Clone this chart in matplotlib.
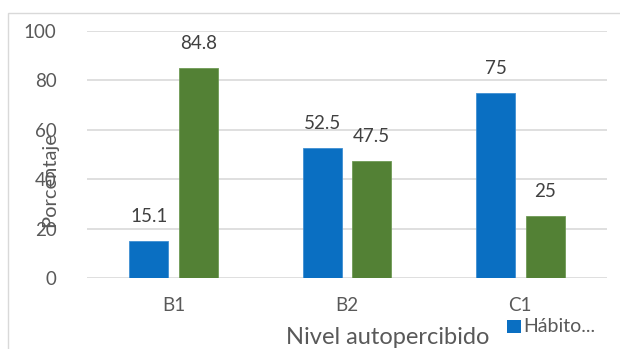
import matplotlib
matplotlib.use("Agg")
import matplotlib.pyplot as plt
import numpy as np
from matplotlib.patches import Rectangle

categories = ["B1", "B2", "C1"]
serie_habito = [15.1, 52.5, 75]
serie_otro = [84.8, 47.5, 25]
yticks = [0, 20, 40, 60, 80, 100]

plt.rcParams["font.family"] = ["Lato", "DejaVu Sans"]

fig = plt.figure(figsize=(6.2, 3.49), dpi=100)
fig.patch.set_facecolor("white")

# outer chart frame
fig.patches.append(Rectangle((8 / 620, -0.1), 1.2, (1 - 13 / 349) + 0.1,
                             transform=fig.transFigure, fill=False,
                             edgecolor="#d9d9d9", linewidth=1.0))

ax = fig.add_axes([87 / 620, 1 - 278 / 349, 520 / 620, (278 - 30.7) / 349])
x = np.arange(len(categories))
w = 0.225
off = 0.143
blue = "#0a6fc2"
green = "#538135"
b1 = ax.bar(x - off, serie_habito, w, color=blue, edgecolor="#3f8fd2", linewidth=0.6, zorder=3)
b2 = ax.bar(x + off, serie_otro, w, color=green, edgecolor="#6f9a55", linewidth=0.6, zorder=3)

for bars, vals in ((b1, serie_habito), (b2, serie_otro)):
    for r, v in zip(bars, vals):
        ax.annotate(f"{v:g}", (r.get_x() + r.get_width() / 2, v),
                    xytext=(0, 17.5), textcoords="offset points",
                    ha="center", va="center", fontsize=13.5, color="#404040")

ax.set_xlim(-0.5, 2.5)
ax.set_ylim(0, 100)
ax.set_yticks(yticks)
ax.set_xticks(x)
ax.set_xticklabels(categories)
ax.tick_params(axis="both", length=0, labelsize=13.5, colors="#595959")
ax.tick_params(axis="y", pad=22)
ax.tick_params(axis="x", pad=14)
ax.grid(axis="y", color="#d9d9d9", linewidth=1.2, zorder=0)
for s in ax.spines.values():
    s.set_visible(False)

fig.text(50 / 620, 1 - 180 / 349, "Porcentaje", rotation=90, ha="center", va="center",
         fontsize=14.5, color="#595959")
fig.text(388 / 620, 1 - 337 / 349, "Nivel autopercibido", ha="center", va="center",
         fontsize=17, color="#595959")

# legend entry
fig.patches.append(Rectangle((507 / 620, 1 - 333 / 349), 14 / 620, 13 / 349,
                             transform=fig.transFigure, facecolor=blue, edgecolor="none"))
fig.text(523 / 620, 1 - 326 / 349, "Hábito...", ha="left", va="center",
         fontsize=14, color="#595959")

fig.savefig("out.png", dpi=100)
